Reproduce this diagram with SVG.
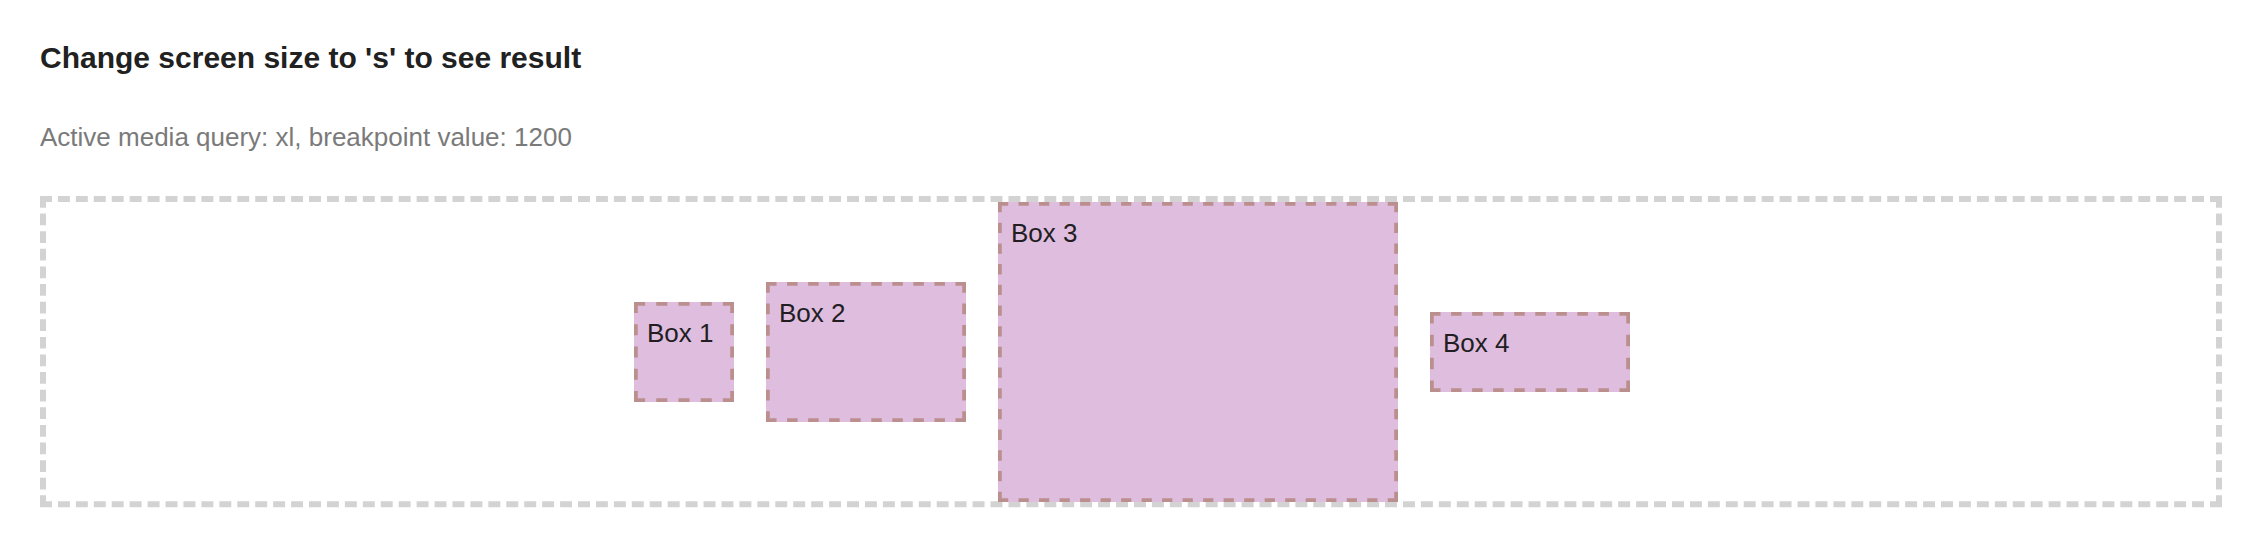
<svg xmlns="http://www.w3.org/2000/svg" width="2250" height="548" viewBox="0 0 2250 548">
  <style>
    .title { font-family: "Liberation Sans", Arial, sans-serif; font-size: 30px; font-weight: bold; fill: #212121; }
    .sub { font-family: "Liberation Sans", Arial, sans-serif; font-size: 26px; fill: #7a7a7a; }
    .lbl { font-family: "Liberation Sans", Arial, sans-serif; font-size: 26px; fill: #211d22; }
    .outer line { stroke: #d3d3d3; stroke-width: 6; fill: none; }
    .boxfill { fill: #dfbddf; stroke: none; }
    .node line { stroke: #bc8f8f; stroke-width: 3.8; fill: none; }
  </style>
  <rect x="0" y="0" width="2250" height="548" fill="#ffffff"/>
  <text class="title" x="40" y="68">Change screen size to 's' to see result</text>
  <text class="sub" x="40" y="146">Active media query: xl, breakpoint value: 1200</text>

  <g id="container" class="outer">
    <line x1="40" y1="199" x2="2222" y2="199" stroke-dasharray="11.956 5.978"/>
    <line x1="40" y1="504.3" x2="2222" y2="504.3" stroke-dasharray="11.956 5.978"/>
    <line x1="43" y1="196" x2="43" y2="507.3" stroke-dasharray="11.74 5.87"/>
    <line x1="2219" y1="196" x2="2219" y2="507.3" stroke-dasharray="11.74 5.87"/>
  </g>

  <g id="box1" class="node">
    <rect class="boxfill" x="634" y="302" width="100" height="100"/>
    <line x1="634" y1="303.9" x2="734" y2="303.9" stroke-dasharray="11.11 11.11"/>
    <line x1="634" y1="400.1" x2="734" y2="400.1" stroke-dasharray="11.11 11.11"/>
    <line x1="635.9" y1="302" x2="635.9" y2="402" stroke-dasharray="11.11 11.11"/>
    <line x1="732.1" y1="302" x2="732.1" y2="402" stroke-dasharray="11.11 11.11"/>
    <text class="lbl" x="647" y="342">Box 1</text>
  </g>

  <g id="box2" class="node">
    <rect class="boxfill" x="766" y="282" width="200" height="140"/>
    <line x1="766" y1="283.9" x2="966" y2="283.9" stroke-dasharray="10.526 10.526"/>
    <line x1="766" y1="420.1" x2="966" y2="420.1" stroke-dasharray="10.526 10.526"/>
    <line x1="767.9" y1="282" x2="767.9" y2="422" stroke-dasharray="10.77 10.77"/>
    <line x1="964.1" y1="282" x2="964.1" y2="422" stroke-dasharray="10.77 10.77"/>
    <text class="lbl" x="779" y="322">Box 2</text>
  </g>

  <g id="box3" class="node">
    <rect class="boxfill" x="998" y="202" width="400" height="300"/>
    <line x1="998" y1="203.9" x2="1398" y2="203.9" stroke-dasharray="10.256 10.256"/>
    <line x1="998" y1="500.1" x2="1398" y2="500.1" stroke-dasharray="10.256 10.256"/>
    <line x1="999.9" y1="202" x2="999.9" y2="502" stroke-dasharray="10.345 10.345"/>
    <line x1="1396.1" y1="202" x2="1396.1" y2="502" stroke-dasharray="10.345 10.345"/>
    <text class="lbl" x="1011" y="242">Box 3</text>
  </g>

  <g id="box4" class="node">
    <rect class="boxfill" x="1430" y="312" width="200" height="80"/>
    <line x1="1430" y1="313.9" x2="1630" y2="313.9" stroke-dasharray="10.526 10.526"/>
    <line x1="1430" y1="390.1" x2="1630" y2="390.1" stroke-dasharray="10.526 10.526"/>
    <line x1="1431.9" y1="312" x2="1431.9" y2="392" stroke-dasharray="11.43 11.43"/>
    <line x1="1628.1" y1="312" x2="1628.1" y2="392" stroke-dasharray="11.43 11.43"/>
    <text class="lbl" x="1443" y="352">Box 4</text>
  </g>

  <g id="connectors"></g>
</svg>
